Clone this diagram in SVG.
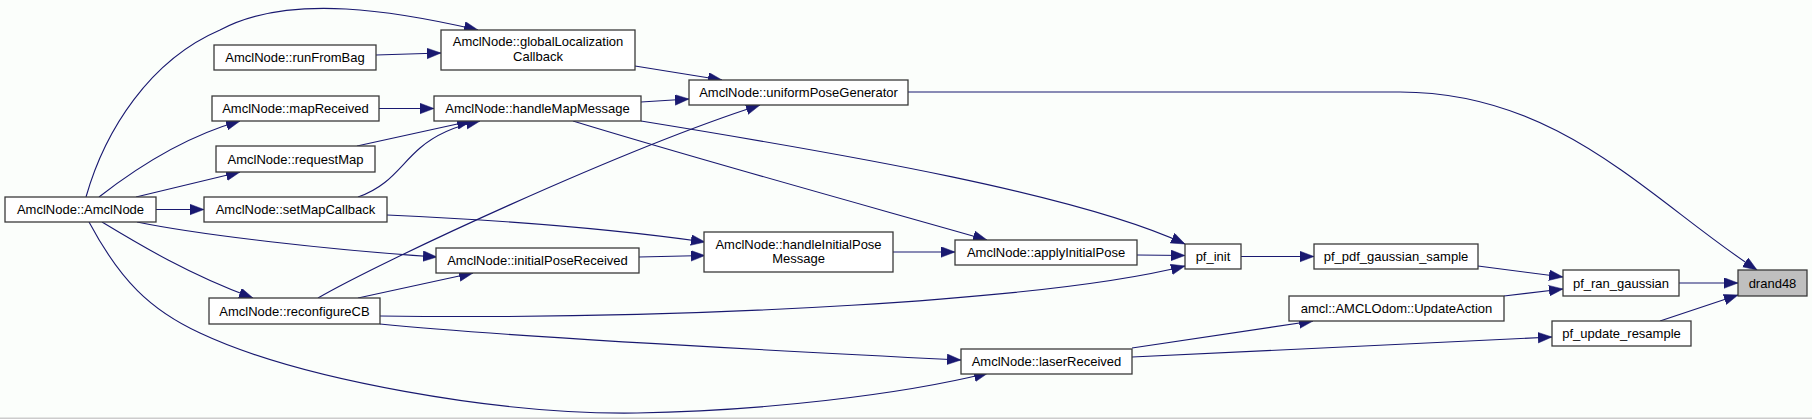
<svg xmlns="http://www.w3.org/2000/svg" width="1812" height="419" viewBox="0 0 1812 419">
<defs>
<style>
.n rect{fill:#ffffff;stroke:#3a3a3a;stroke-width:1.3}
.n text{font-family:"Liberation Sans",Arial,sans-serif;font-size:13px;fill:#000;text-anchor:middle}
#drand48 rect{fill:#bfbfbf}
.e path{fill:none;stroke:#191970;stroke-width:1.1;marker-end:url(#ah)}
</style>
<marker id="ah" markerUnits="userSpaceOnUse" markerWidth="15" markerHeight="12" refX="14" refY="5.3" orient="auto">
<path d="M0,0 L14,5.3 L0,10.6 z" fill="#191970" stroke="#191970" stroke-width="0.5"/>
</marker>
</defs>
<rect x="0" y="0" width="1812" height="419" fill="#fbfefb"/>
<rect x="0" y="417.5" width="1812" height="1.5" fill="#cccccc"/>
<g id="connectors" class="e">
<path d="M908,92 L1400,92 C1560,92 1650,200 1757,270"/>
<path d="M1679,283 L1738,283"/>
<path d="M1660,321 L1738,295"/>
<path d="M1478,266 L1563,277"/>
<path d="M1504,296 L1563,289"/>
<path d="M1241,256.5 L1314,256.5"/>
<path d="M1132,348 L1313,321"/>
<path d="M1132,357 L1552,337"/>
<path d="M1137,255 L1185,255.5"/>
<path d="M641,121 C850,155 1080,195 1185,244"/>
<path d="M380,316 C700,320 1050,300 1185,266"/>
<path d="M573,121 C700,160 900,215 987,240"/>
<path d="M893,252 L955,252"/>
<path d="M641,102 L689,99"/>
<path d="M635,66 L722,80"/>
<path d="M318,298 C380,262 620,150 760,105"/>
<path d="M387,215 C500,220 620,230 705,242"/>
<path d="M639,257 L705,255.5"/>
<path d="M380,324 C500,336 800,352 961,360"/>
<path d="M89,222 C120,280 150,310 200,333 C300,380 500,415 637,413 C760,411 900,395 988,373"/>
<path d="M86,197 C105,130 150,60 220,30 C290,-8 400,12 478,30"/>
<path d="M376,55 L441,53"/>
<path d="M379,108.5 L434,108.5"/>
<path d="M357,146 L471,121"/>
<path d="M358,197 C390,186 400,165 420,148 C435,135 455,126 480,121"/>
<path d="M99,197 C140,165 190,135 240,121"/>
<path d="M136,197 L240,172"/>
<path d="M156,209.5 L204,209.5"/>
<path d="M137,222 C200,235 330,250 437,257"/>
<path d="M102,222 C140,245 190,275 253,298"/>
<path d="M358,298 L473,273"/>
</g>
<g id="AmclNode_AmclNode" class="n"><rect x="5" y="197" width="151" height="25"/><text x="80.5" y="213.5">AmclNode::AmclNode</text></g>
<g id="runFromBag" class="n"><rect x="214" y="45" width="162" height="25"/><text x="295" y="61.5">AmclNode::runFromBag</text></g>
<g id="mapReceived" class="n"><rect x="212" y="96" width="167" height="25"/><text x="295.5" y="112.5">AmclNode::mapReceived</text></g>
<g id="requestMap" class="n"><rect x="216" y="146" width="159" height="26"/><text x="295.5" y="163.5">AmclNode::requestMap</text></g>
<g id="setMapCallback" class="n"><rect x="204" y="197" width="183" height="25"/><text x="295.5" y="213.5">AmclNode::setMapCallback</text></g>
<g id="reconfigureCB" class="n"><rect x="209" y="298" width="171" height="26"/><text x="294.5" y="315.5">AmclNode::reconfigureCB</text></g>
<g id="globalLocalizationCallback" class="n"><rect x="441" y="30" width="194" height="40"/><text x="538" y="46.3">AmclNode::globalLocalization</text><text x="538" y="60.7">Callback</text></g>
<g id="handleMapMessage" class="n"><rect x="434" y="96" width="207" height="25"/><text x="537.5" y="112.5">AmclNode::handleMapMessage</text></g>
<g id="initialPoseReceived" class="n"><rect x="436" y="248" width="203" height="25"/><text x="537.5" y="264.5">AmclNode::initialPoseReceived</text></g>
<g id="uniformPoseGenerator" class="n"><rect x="689" y="80" width="219" height="25"/><text x="798.5" y="96.5">AmclNode::uniformPoseGenerator</text></g>
<g id="handleInitialPoseMessage" class="n"><rect x="704" y="232" width="189" height="40"/><text x="798.5" y="248.7">AmclNode::handleInitialPose</text><text x="798.5" y="263.3">Message</text></g>
<g id="applyInitialPose" class="n"><rect x="955" y="240" width="182" height="25"/><text x="1046" y="256.5">AmclNode::applyInitialPose</text></g>
<g id="laserReceived" class="n"><rect x="961" y="349" width="171" height="25"/><text x="1046.5" y="365.5">AmclNode::laserReceived</text></g>
<g id="pf_init" class="n"><rect x="1185" y="244" width="56" height="25"/><text x="1213" y="260.5">pf_init</text></g>
<g id="pf_pdf_gaussian_sample" class="n"><rect x="1314" y="244" width="164" height="25"/><text x="1396" y="260.5">pf_pdf_gaussian_sample</text></g>
<g id="UpdateAction" class="n"><rect x="1289" y="296" width="215" height="25"/><text x="1396.5" y="312.5">amcl::AMCLOdom::UpdateAction</text></g>
<g id="pf_ran_gaussian" class="n"><rect x="1563" y="270" width="116" height="26"/><text x="1621" y="287.5">pf_ran_gaussian</text></g>
<g id="pf_update_resample" class="n"><rect x="1552" y="321" width="139" height="25"/><text x="1621.5" y="337.5">pf_update_resample</text></g>
<g id="drand48" class="n"><rect x="1738" y="270" width="69" height="26"/><text x="1772.5" y="287.5">drand48</text></g>
</svg>
